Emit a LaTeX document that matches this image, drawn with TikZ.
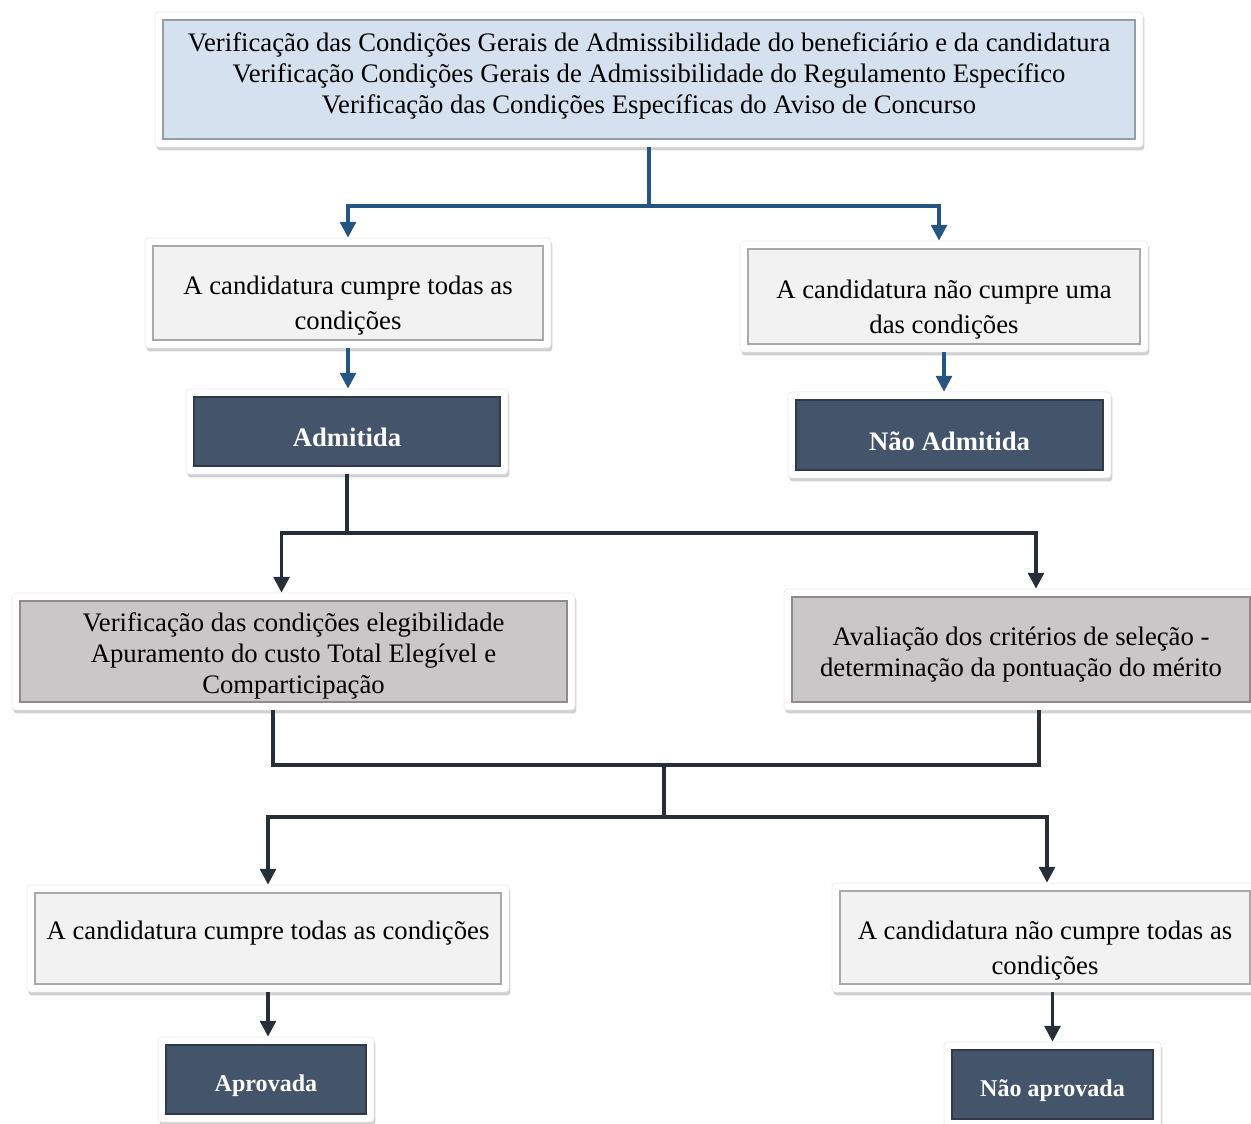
\documentclass[tikz,border=0pt]{standalone}
\usepackage{fontspec}
\setmainfont{Liberation Serif}
\usetikzlibrary{arrows.meta,positioning,shadows}

\definecolor{boxblue}{RGB}{213,225,238}
\definecolor{boxlight}{RGB}{242,242,242}
\definecolor{boxgrey}{RGB}{201,199,200}
\definecolor{boxdark}{RGB}{68,84,106}
\definecolor{linkblue}{RGB}{37,85,130}
\definecolor{linkdark}{RGB}{38,46,58}

% invisible struts to move the text inside a frame
\newcommand\topstrut[1]{\rule{0pt}{#1}}
\newcommand\botstrut[1]{\rule[-#1]{0pt}{0pt}}

\tikzset{
  box/.style={rectangle, rounded corners=2pt, fill=white, draw=black!8, line width=0.4pt,
    drop shadow={shadow xshift=0.03cm, shadow yshift=-0.07cm, opacity=0.18, fill=black},
    inner sep=0pt, align=center, font=\fontsize{15.2}{17.6}\selectfont,
    path picture={\draw[sharp corners, fill=#1, draw=#1!70!black, line width=0.7pt]
      ([shift={(0.16cm,-0.16cm)}]path picture bounding box.north west) rectangle
      ([shift={(-0.16cm,0.16cm)}]path picture bounding box.south east);}},
  topbox/.style={box=boxblue},
  askbox/.style={box=boxlight, font=\fontsize{15.2}{19.8}\selectfont},
  stagebox/.style={box=boxgrey},
  result/.style={box=boxdark, text=white, font=\fontsize{15.2}{17.6}\selectfont\bfseries},
  small result/.style={result, font=\fontsize{13.7}{16}\selectfont\bfseries},
  bluelink/.style={draw=linkblue, line width=2pt},
  darklink/.style={draw=linkdark, line width=2pt},
  tip/.style={-{Triangle[width=9pt,length=9pt]}}
}

\begin{document}
\begin{tikzpicture}[x=0.02cm,y=-0.02cm]
  \useasboundingbox (0,0) rectangle (1251,1124);

  \node[topbox, minimum width=19.76cm, minimum height=2.7cm] (top) at (649,79.5)
    {Verificação das Condições Gerais de Admissibilidade do beneficiário e da candidatura\\
     Verificação Condições Gerais de Admissibilidade do Regulamento Específico\\
     Verificação das Condições Específicas do Aviso de Concurso\botstrut{7.3pt}};

  \node[askbox, minimum width=8.12cm, minimum height=2.2cm] (yes1) at (348,293)
    {\topstrut{25.2pt}A candidatura cumpre todas as\\condições};
  \node[askbox, minimum width=8.16cm, minimum height=2.22cm] (no1) at (944,296.5)
    {\topstrut{25.5pt}A candidatura não cumpre uma\\das condições};

  \node[result, minimum width=6.44cm, minimum height=1.7cm] (adm) at (347,431.5)
    {\topstrut{17.1pt}Admitida};
  \node[result, minimum width=6.46cm, minimum height=1.72cm] (nadm) at (949.5,435)
    {\topstrut{17.5pt}Não Admitida};

  \node[stagebox, minimum width=11.26cm, minimum height=2.34cm] (elig) at (293.5,651.5)
    {\topstrut{16pt}Verificação das condições elegibilidade\\
     Apuramento do custo Total Elegível e\\
     Comparticipação};
  \node[stagebox, minimum width=9.48cm, minimum height=2.42cm] (merit) at (1021,649.5)
    {\topstrut{16pt}Avaliação dos critérios de seleção -\\determinação da pontuação do mérito};

  \node[askbox, minimum width=9.64cm, minimum height=2.14cm] (yes2) at (268,938.5)
    {A candidatura cumpre todas as condições\botstrut{9pt}};
  \node[askbox, minimum width=8.52cm, minimum height=2.18cm] (no2) at (1045,937.5)
    {\topstrut{25.5pt}A candidatura não cumpre todas as\\condições};

  \node[small result, minimum width=4.32cm, minimum height=1.7cm] (apr) at (266,1079.5)
    {\topstrut{16.5pt}Aprovada};
  \node[small result, minimum width=4.34cm, minimum height=1.7cm] (napr) at (1052.5,1084.5)
    {\topstrut{16.8pt}Não aprovada};

  % first check
  \coordinate (fork1) at (651,206);
  \draw[bluelink,tip] (top.south) -- (top.south |- fork1) -| (yes1.north);
  \draw[bluelink,tip] (top.south |- fork1) -| ([xshift=-0.1cm]no1.north);
  \draw[bluelink,tip] (yes1.south) -- (yes1.south |- adm.north);
  \draw[bluelink,tip] (no1.south) -- (no1.south |- nadm.north);

  % admitted
  \coordinate (fork2) at (347,533);
  \draw[darklink,tip] (adm.south) -- (adm.south |- fork2) -| ([xshift=-0.24cm]elig.north);
  \draw[darklink,tip] (adm.south |- fork2) -| ([xshift=0.3cm]merit.north);

  % decision
  \coordinate (join) at (664,765);
  \coordinate (fork3) at (664,817);
  \draw[darklink] ([xshift=-0.41cm]elig.south) |- (join) -| ([xshift=0.36cm]merit.south);
  \draw[darklink] (join) -- (fork3);
  \draw[darklink,tip] (fork3) -| (yes2.north);
  \draw[darklink,tip] (fork3) -| ([xshift=0.04cm]no2.north);
  \draw[darklink,tip] (yes2.south) -- (yes2.south |- apr.north);
  \draw[darklink,tip] (napr.north |- no2.south) -- (napr.north);
\end{tikzpicture}
\end{document}
